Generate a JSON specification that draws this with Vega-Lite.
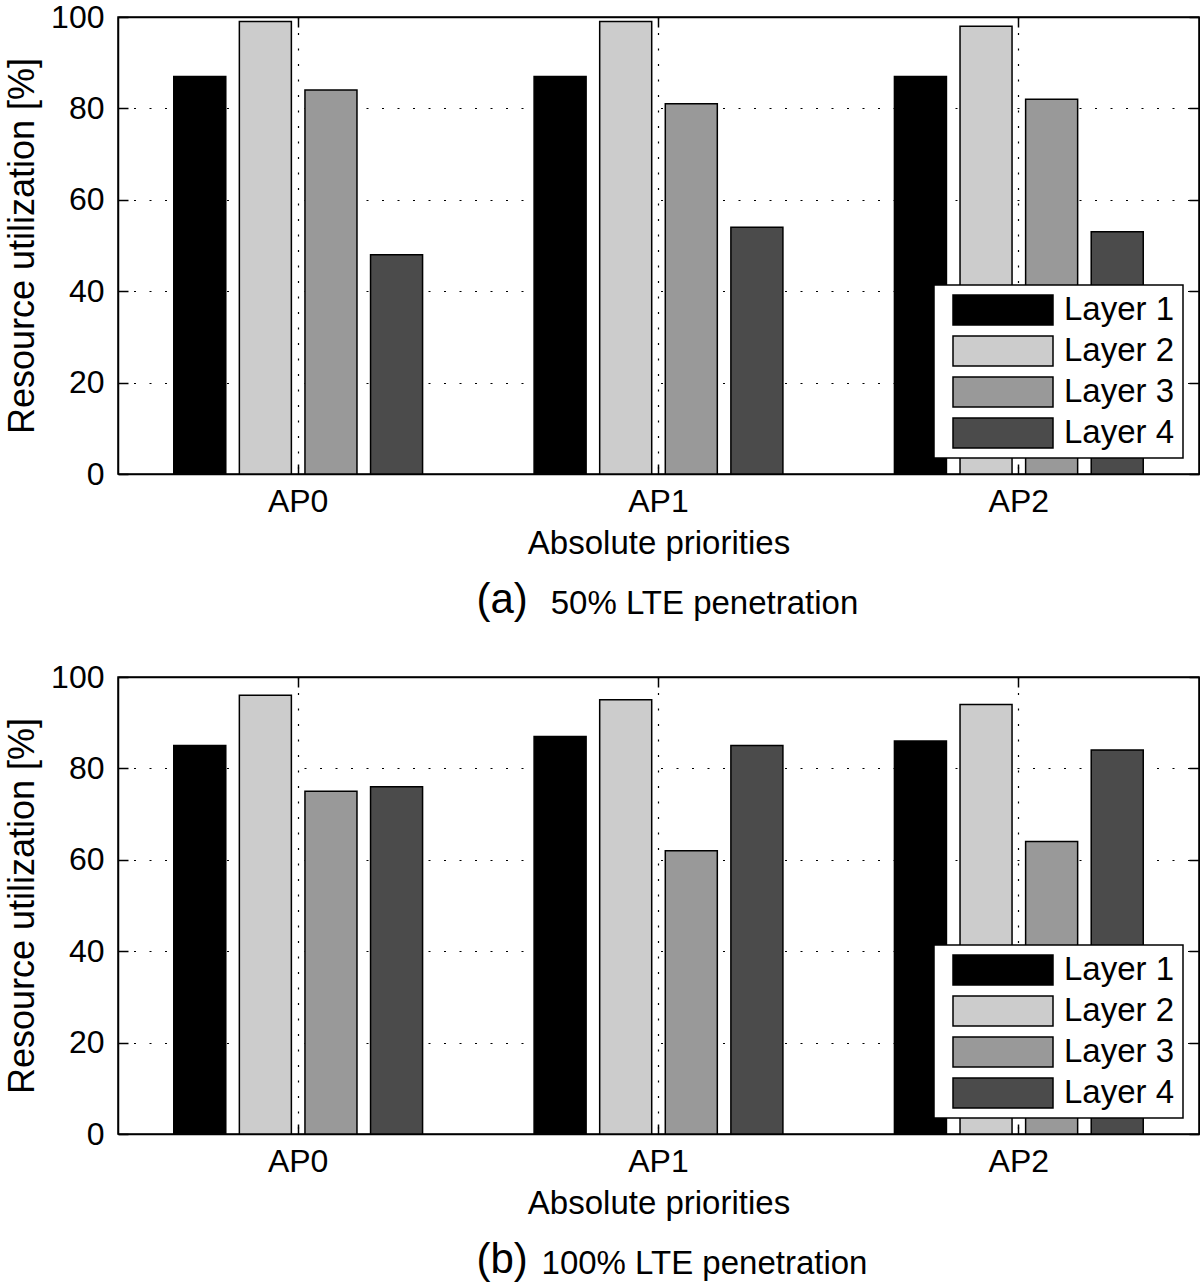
{
  "$schema": "https://vega.github.io/schema/vega-lite/v6.json",
  "padding": {"left": 3, "top": 0, "right": 0, "bottom": 0},
  "spacing": 38,
  "datasets": {
    "a": [
      {"group": "AP0", "layer": "Layer 1", "value": 87},
      {"group": "AP0", "layer": "Layer 2", "value": 99},
      {"group": "AP0", "layer": "Layer 3", "value": 84},
      {"group": "AP0", "layer": "Layer 4", "value": 48},
      {"group": "AP1", "layer": "Layer 1", "value": 87},
      {"group": "AP1", "layer": "Layer 2", "value": 99},
      {"group": "AP1", "layer": "Layer 3", "value": 81},
      {"group": "AP1", "layer": "Layer 4", "value": 54},
      {"group": "AP2", "layer": "Layer 1", "value": 87},
      {"group": "AP2", "layer": "Layer 2", "value": 98},
      {"group": "AP2", "layer": "Layer 3", "value": 82},
      {"group": "AP2", "layer": "Layer 4", "value": 53}
    ],
    "b": [
      {"group": "AP0", "layer": "Layer 1", "value": 85},
      {"group": "AP0", "layer": "Layer 2", "value": 96},
      {"group": "AP0", "layer": "Layer 3", "value": 75},
      {"group": "AP0", "layer": "Layer 4", "value": 76},
      {"group": "AP1", "layer": "Layer 1", "value": 87},
      {"group": "AP1", "layer": "Layer 2", "value": 95},
      {"group": "AP1", "layer": "Layer 3", "value": 62},
      {"group": "AP1", "layer": "Layer 4", "value": 85},
      {"group": "AP2", "layer": "Layer 1", "value": 86},
      {"group": "AP2", "layer": "Layer 2", "value": 94},
      {"group": "AP2", "layer": "Layer 3", "value": 64},
      {"group": "AP2", "layer": "Layer 4", "value": 84}
    ]
  },
  "vconcat": [
    {
      "title": {"text": "(a)", "orient": "bottom", "fontSize": 42, "dx": -100, "dy": -46},
      "resolve": {"scale": {"fill": "independent"}, "legend": {"fill": "independent"}},
      "vconcat": [
        {
          "width": 1081,
          "height": 457,
          "data": {"name": "a"},
          "title": {"text": "50% LTE penetration", "orient": "bottom", "fontSize": 33, "dx": 46, "offset": 28},
          "resolve": {"axis": {"x": "independent", "y": "independent"}},
          "layer": [
            {
              "mark": {"type": "bar", "stroke": "black", "strokeWidth": 1.5},
              "encoding": {
                "x": {"field": "group", "type": "nominal", "scale": {"paddingInner": 0, "paddingOuter": 0},
                      "axis": {"title": "Absolute priorities", "labelAngle": 0, "grid": true, "bandPosition": 0.5, "orient": "bottom"}},
                "xOffset": {"field": "layer", "type": "nominal", "scale": {"paddingInner": 0.207, "paddingOuter": 0.85}},
                "y": {"field": "value", "type": "quantitative", "scale": {"domain": [0, 100], "nice": false},
                      "axis": {"title": "Resource utilization [%]", "values": [0, 20, 40, 60, 80, 100], "grid": true, "orient": "left"}},
                "fill": {"field": "layer", "type": "nominal",
                         "scale": {"domain": ["Layer 1", "Layer 2", "Layer 3", "Layer 4"], "range": ["#000000", "#cccccc", "#999999", "#4b4b4b"]},
                         "legend": {"title": null}}
              }
            },
            {
              "mark": {"type": "bar", "opacity": 0},
              "encoding": {
                "x": {"field": "group", "type": "nominal", "axis": {"orient": "top", "labels": false, "title": null, "grid": false, "bandPosition": 0.5}},
                "xOffset": {"field": "layer", "type": "nominal"},
                "y": {"field": "value", "type": "quantitative", "axis": {"orient": "right", "labels": false, "title": null, "grid": false, "values": [0, 20, 40, 60, 80, 100]}}
              }
            }
          ]
        }
      ]
    },
    {
      "title": {"text": "(b)", "orient": "bottom", "fontSize": 42, "dx": -100, "dy": -46},
      "resolve": {"scale": {"fill": "independent"}, "legend": {"fill": "independent"}},
      "vconcat": [
        {
          "width": 1081,
          "height": 457,
          "data": {"name": "b"},
          "title": {"text": "100% LTE penetration", "orient": "bottom", "fontSize": 33, "dx": 46, "offset": 28},
          "resolve": {"axis": {"x": "independent", "y": "independent"}},
          "layer": [
            {
              "mark": {"type": "bar", "stroke": "black", "strokeWidth": 1.5},
              "encoding": {
                "x": {"field": "group", "type": "nominal", "scale": {"paddingInner": 0, "paddingOuter": 0},
                      "axis": {"title": "Absolute priorities", "labelAngle": 0, "grid": true, "bandPosition": 0.5, "orient": "bottom"}},
                "xOffset": {"field": "layer", "type": "nominal", "scale": {"paddingInner": 0.207, "paddingOuter": 0.85}},
                "y": {"field": "value", "type": "quantitative", "scale": {"domain": [0, 100], "nice": false},
                      "axis": {"title": "Resource utilization [%]", "values": [0, 20, 40, 60, 80, 100], "grid": true, "orient": "left"}},
                "fill": {"field": "layer", "type": "nominal",
                         "scale": {"domain": ["Layer 1", "Layer 2", "Layer 3", "Layer 4"], "range": ["#000000", "#cccccc", "#999999", "#4b4b4b"]},
                         "legend": {"title": null}}
              }
            },
            {
              "mark": {"type": "bar", "opacity": 0},
              "encoding": {
                "x": {"field": "group", "type": "nominal", "axis": {"orient": "top", "labels": false, "title": null, "grid": false, "bandPosition": 0.5}},
                "xOffset": {"field": "layer", "type": "nominal"},
                "y": {"field": "value", "type": "quantitative", "axis": {"orient": "right", "labels": false, "title": null, "grid": false, "values": [0, 20, 40, 60, 80, 100]}}
              }
            }
          ]
        }
      ]
    }
  ],
  "resolve": {"scale": {"fill": "independent"}, "legend": {"fill": "independent"}},
  "config": {
    "font": "Liberation Sans",
    "background": "white",
    "view": {"stroke": "black", "strokeWidth": 1.5},
    "title": {"font": "Liberation Sans", "fontWeight": "normal", "color": "black", "anchor": "middle"},
    "axis": {
      "labelFont": "Liberation Sans", "labelFontSize": 32, "labelColor": "black",
      "titleFont": "Liberation Sans", "titleFontSize": 33, "titleFontWeight": "normal", "titleColor": "black",
      "domainColor": "black", "domainWidth": 1.5,
      "tickColor": "black", "tickSize": -10, "tickWidth": 1.5,
      "gridColor": "black", "gridDash": [2, 13.5], "gridWidth": 1.2, "gridOpacity": 1
    },
    "axisLeft": {"labelPadding": 24, "titlePadding": 9, "titleFontSize": 36},
    "axisBottom": {"labelPadding": 22, "titlePadding": 10},
    "legend": {
      "orient": "bottom-right", "offset": 16,
      "labelFont": "Liberation Sans", "labelFontSize": 33, "labelColor": "black",
      "symbolType": "M-1,-0.3H1V0.3H-1Z", "symbolSize": 10000, "symbolStrokeColor": "black", "symbolStrokeWidth": 1.5,
      "symbolOpacity": 1, "symbolOffset": 10, "labelOffset": 10, "clipHeight": 34, "rowPadding": 7,
      "strokeColor": "black", "strokeWidth": 1.5, "fillColor": "white", "padding": 8
    }
  }
}
